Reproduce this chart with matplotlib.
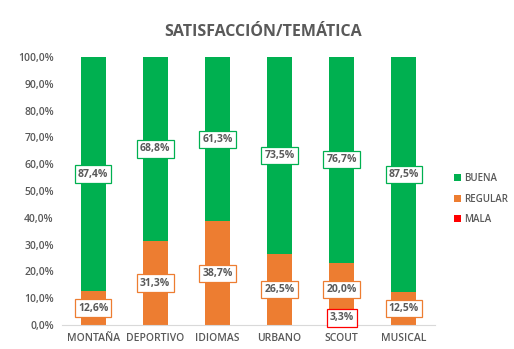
import matplotlib.pyplot as plt
import numpy as np

categorias = ["MONTAÑA", "DEPORTIVO", "IDIOMAS", "URBANO", "SCOUT", "MUSICAL"]
mala = [0.0, 0.0, 0.0, 0.0, 3.3, 0.0]
regular = [12.6, 31.3, 38.7, 26.5, 20.0, 12.5]
buena = [87.4, 68.8, 61.3, 73.5, 76.7, 87.5]

verde = "#00B050"
naranja = "#ED7D31"
rojo = "#FF0000"
gris = "#595959"

plt.rcParams['font.family'] = ['Open Sans', 'DejaVu Sans']

fig = plt.figure(figsize=(5.14, 3.49), dpi=100)
ax = fig.add_axes([62 / 514, 1 - 325 / 349, 373 / 514, 268 / 349])

x = np.arange(len(categorias))
ancho = 0.4
mala = np.array(mala)
regular = np.array(regular)
buena = np.array(buena)

ax.bar(x, mala, ancho, color=rojo, label="MALA")
ax.bar(x, regular, ancho, bottom=mala, color=naranja, label="REGULAR")
ax.bar(x, buena, ancho, bottom=mala + regular, color=verde, label="BUENA")

def etiqueta(xi, y, v, borde):
    ax.text(xi, y, f"{v:.1f}%".replace(".", ","), ha="center", va="center",
            fontsize=7.5, fontweight="bold", color=gris,
            bbox=dict(boxstyle="square,pad=0.3", fc="white", ec=borde, lw=0.9, alpha=1))

for i in range(len(categorias)):
    if mala[i] > 0:
        etiqueta(x[i], mala[i] / 2 + 1.0, mala[i], rojo)
    etiqueta(x[i], mala[i] + regular[i] / 2, regular[i], naranja)
    etiqueta(x[i], mala[i] + regular[i] + buena[i] / 2, buena[i], verde)

ax.set_xlim(-0.5, 5.5)
ax.set_ylim(0, 100)
ax.set_yticks(np.arange(0, 101, 10))
ax.set_yticklabels([f"{v:.1f}%".replace(".", ",") for v in np.arange(0, 101, 10)],
                   fontsize=7.5, color=gris, fontweight="semibold")
ax.set_xticks(x)
ax.set_xticklabels(categorias, fontsize=7.5, color=gris, fontweight="semibold")
ax.tick_params(length=0, pad=6)
for s in ["top", "right", "left"]:
    ax.spines[s].set_visible(False)
ax.spines["bottom"].set_color("#D9D9D9")

fig.text(263 / 514, 1 - 32 / 349, "SATISFACCIÓN/TEMÁTICA", ha="center", va="center",
         fontsize=11.5, fontweight="bold", color=gris)

h, l = ax.get_legend_handles_labels()
leg = fig.legend(h[::-1], l[::-1], loc="center left", bbox_to_anchor=(445 / 514, 1 - 199 / 349),
                 frameon=False, fontsize=7, handlelength=0.7, handleheight=0.7,
                 handletextpad=0.4, labelspacing=1.0, labelcolor=gris)
for t in leg.get_texts():
    t.set_fontweight("semibold")

fig.savefig("out.png", dpi=100)
